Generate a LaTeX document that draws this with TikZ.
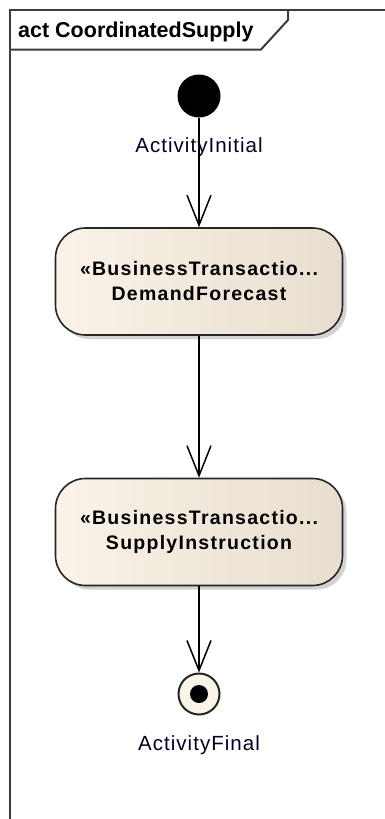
\documentclass[tikz,border=0pt]{standalone}
\usepackage{fontspec}
\setmainfont{Liberation Sans}
\newfontfamily\actfont[LetterSpace=6.5]{Liberation Sans}
\newfontfamily\lblfont[LetterSpace=5]{Liberation Sans}
\usepackage{tikz}
\usetikzlibrary{arrows.meta, positioning, shadows}
\definecolor{cream}{RGB}{250,243,232}
\definecolor{creamdark}{RGB}{231,222,207}
\definecolor{framegray}{RGB}{60,60,60}

\tikzset{
  action/.style={draw=black!85, line width=1.6pt, rounded corners=30pt, minimum width=287pt, minimum height=107pt, inner sep=0pt, align=center, left color=cream, middle color=cream, right color=creamdark, drop shadow={shadow xshift=4pt, shadow yshift=-4pt, fill=black!35}, font=\actfont\bfseries\fontsize{19.5}{25}\selectfont},
  flow/.style={line width=1.5pt, -{Straight Barb[length=30pt,width=24pt,line width=1.5pt]}},
  lbl/.style={font=\lblfont\fontsize{20.5}{24}\selectfont, text=black!85!blue}
}

\begin{document}
\begin{tikzpicture}[x=1pt, y=-1pt]
\useasboundingbox (0,0) rectangle (384,819);
\fill[white] (0,0) rectangle (384,819);
\draw[framegray, line width=2pt] (9.5,830) -- (9.5,9.5) -- (395,9.5);
\draw[framegray, line width=2pt] (9.5,49.5) -- (261,49.5) -- (288,20) -- (288,9.5);
\node[anchor=base west, font=\bfseries\fontsize{21.5}{24}\selectfont, inner sep=0pt] (title) at (18,37) {act CoordinatedSupply};

\node[circle, fill=black, minimum size=43pt, inner sep=0pt] (init) at (199,96) {};
\node[lbl, anchor=base] (initlbl) at (199,152) {ActivityInitial};
\node[action] (demand) at (199,281.5) {«BusinessTransactio...\\DemandForecast};
\node[action] (supply) at (199,532) {«BusinessTransactio...\\SupplyInstruction};
\node[circle, draw=black!85, line width=2pt, fill=cream, minimum size=41pt, inner sep=0pt] (final) at (199,694) {};
\node[circle, fill=black, minimum size=18pt, inner sep=0pt] (finaldot) at (final) {};
\node[lbl, anchor=base] (finallbl) at (199,750) {ActivityFinal};

\draw[flow] (init) -- (demand);
\draw[flow] (demand) -- (supply);
\draw[flow] (supply) -- (final);
\end{tikzpicture}
\end{document}
